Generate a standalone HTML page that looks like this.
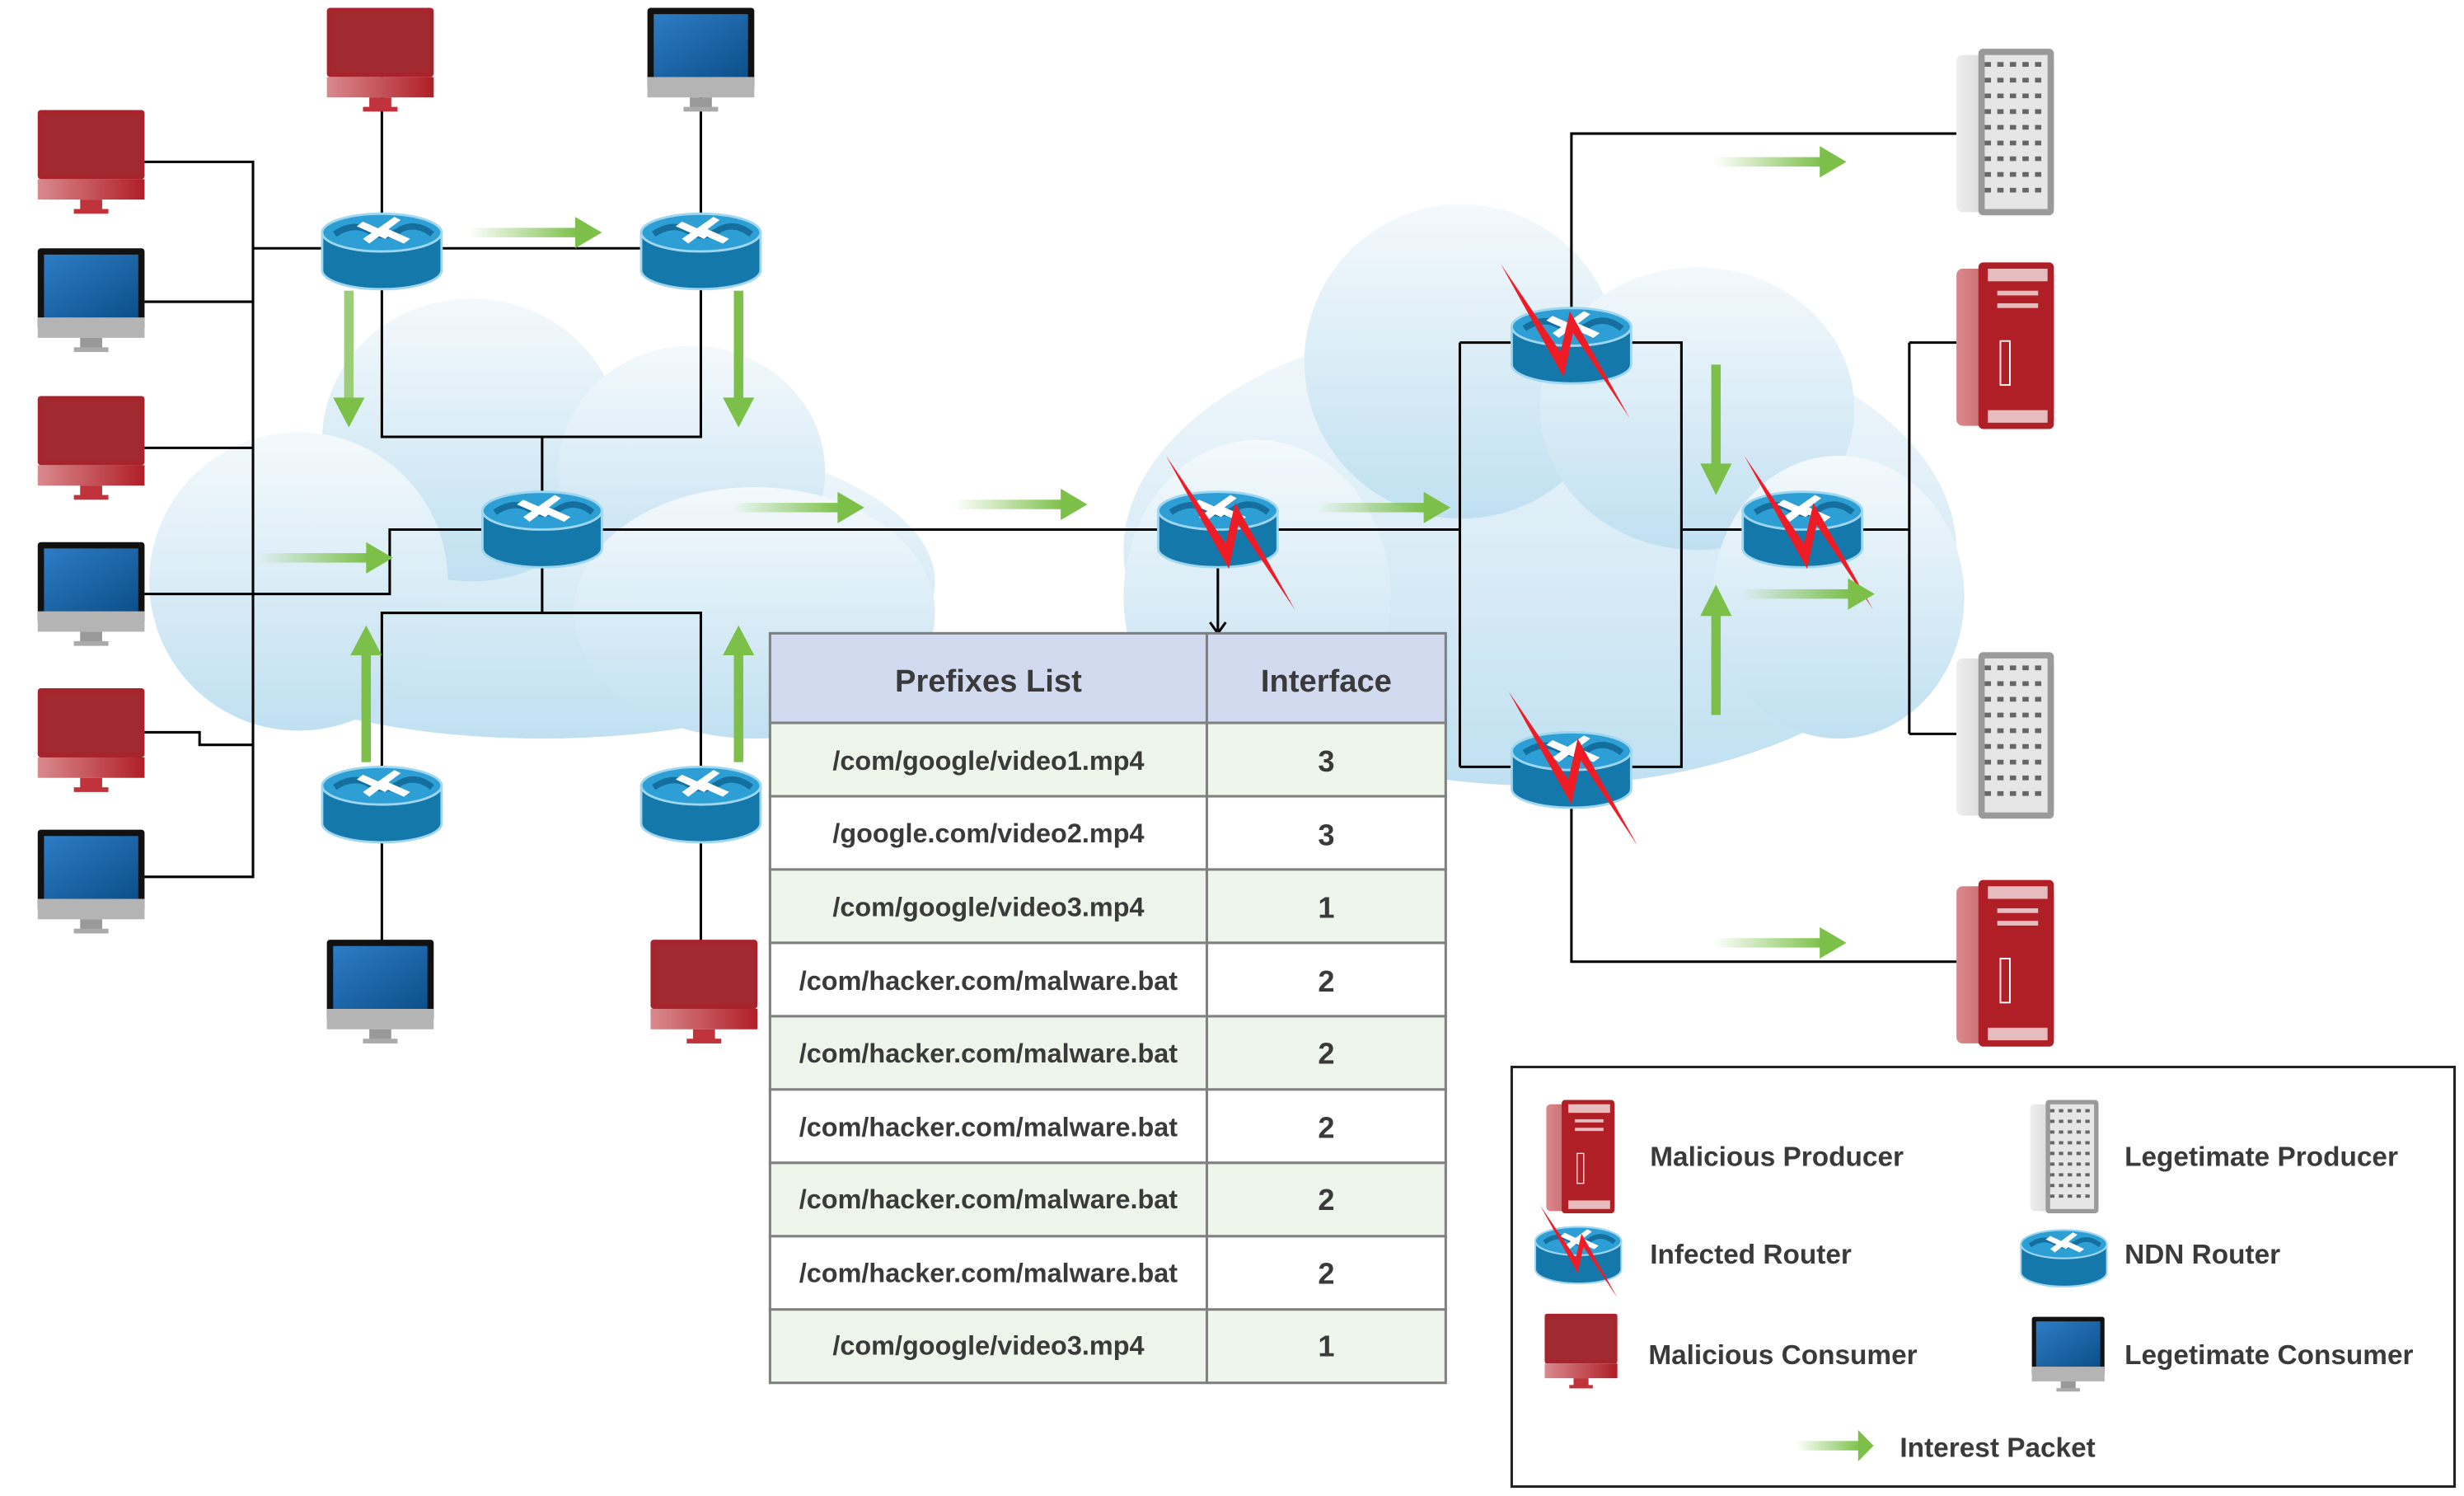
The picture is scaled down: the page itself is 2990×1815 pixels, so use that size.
<!DOCTYPE html>
<html><head><meta charset="utf-8"><style>
html,body{margin:0;padding:0;background:#fff;}
svg{display:block;}
text{font-family:"Liberation Sans",sans-serif;font-weight:bold;fill:#3a3a3a;}
</style></head><body>
<svg width="2990" height="1815" viewBox="0 0 1568 952" preserveAspectRatio="none" xmlns="http://www.w3.org/2000/svg">
<defs>
<linearGradient id="cloud" x1="0" y1="0" x2="0" y2="1"><stop offset="0" stop-color="#f4f9fc"/><stop offset="1" stop-color="#c0e0f1"/></linearGradient>
<linearGradient id="ah" x1="0" y1="0" x2="1" y2="0"><stop offset="0" stop-color="#7cc04a" stop-opacity="0"/><stop offset="1" stop-color="#7cc04a"/></linearGradient>
<linearGradient id="bs" x1="0" y1="0" x2="1" y2="1"><stop offset="0" stop-color="#2d7cc4"/><stop offset="1" stop-color="#0c4f8a"/></linearGradient>
<linearGradient id="rs" x1="0" y1="0" x2="1" y2="0"><stop offset="0" stop-color="#d98a8e"/><stop offset="1" stop-color="#b01e26"/></linearGradient>
<linearGradient id="gs" x1="0" y1="0" x2="1" y2="0"><stop offset="0" stop-color="#eee"/><stop offset="1" stop-color="#aaa"/></linearGradient>
<g id="router">
 <path d="M0,13 V37 A38,12 0 0 0 76,37 V13 Z" fill="#1478ab" stroke="#9fd6f0" stroke-width="1.5"/>
 <ellipse cx="38" cy="13" rx="38" ry="12" fill="#2e9fd4" stroke="#9fd6f0" stroke-width="1.5"/>
 <path d="M8,14 Q20,6 30,12 Q40,18 50,11 Q60,6 70,14" stroke="#146f9e" stroke-width="4" fill="none"/>
 <path d="M26,6 L44,14 L40,17 L22,9 Z M52,20 L34,12 L38,9 L56,17 Z M50,5 L30,20 L26,17 L46,3 Z" fill="#fff"/>
</g>
<g id="mblue">
 <rect x="0" y="0" width="68" height="52" rx="2" fill="#111"/>
 <rect x="4" y="4" width="60" height="40" fill="url(#bs)"/>
 <rect x="0" y="44" width="68" height="13" fill="#b4b4b4"/>
 <rect x="27" y="57" width="14" height="8" fill="#999"/><rect x="23" y="63" width="22" height="3" fill="#aaa"/>
</g>
<g id="mred">
 <rect x="0" y="0" width="68" height="44" rx="2" fill="#a8242c"/>
 <rect x="3" y="3" width="62" height="38" fill="#a12a30"/>
 <rect x="0" y="44" width="68" height="13" fill="url(#rs)"/>
 <rect x="27" y="57" width="14" height="8" fill="#c0333a"/><rect x="23" y="63" width="22" height="3" fill="#c0333a"/>
</g>
<g id="sred">
 <rect x="0" y="4" width="62" height="100" rx="4" fill="url(#rs)"/>
 <rect x="14" y="0" width="48" height="106" rx="3" fill="#b01e26"/>
 <rect x="20" y="4" width="38" height="8" fill="#fff" opacity=".7"/><rect x="20" y="94" width="38" height="8" fill="#fff" opacity=".7"/>
 <rect x="26" y="18" width="26" height="3" fill="#fff" opacity=".7"/><rect x="26" y="26" width="26" height="3" fill="#fff" opacity=".7"/>
 <rect x="28" y="50" width="6" height="28" fill="none" stroke="#fff" stroke-width="1"/>
</g>
<g id="sgray">
 <rect x="0" y="4" width="62" height="100" rx="4" fill="url(#gs)"/>
 <rect x="14" y="0" width="48" height="106" rx="3" fill="#9a9a9a"/>
 <rect x="18" y="4" width="40" height="98" fill="#e6e6e6"/>
 <path d="M18,10 H58 M18,20 H58 M18,30 H58 M18,40 H58 M18,50 H58 M18,60 H58 M18,70 H58 M18,80 H58 M18,90 H58" stroke="#666" stroke-width="3" stroke-dasharray="4 4"/>
</g>
<g id="bolt"><polygon points="0,0 38,56 44,30 82,98 46,44 40,72" fill="#ee1c25"/></g>
<g id="ar"><rect x="0" y="-3" width="70" height="6" fill="url(#ah)"/><polygon points="68,-10 85,0 68,10" fill="#7cc04a"/></g>
</defs>

<!-- clouds -->
<g fill="url(#cloud)">
 <ellipse cx="345" cy="370" rx="250" ry="100"/>
 <ellipse cx="300" cy="280" rx="95" ry="90"/>
 <ellipse cx="440" cy="300" rx="85" ry="80"/>
 <ellipse cx="190" cy="370" rx="95" ry="95"/>
 <ellipse cx="480" cy="390" rx="115" ry="80"/>
 <ellipse cx="980" cy="350" rx="265" ry="150"/>
 <ellipse cx="930" cy="230" rx="100" ry="100"/>
 <ellipse cx="1080" cy="260" rx="100" ry="90"/>
 <ellipse cx="800" cy="380" rx="85" ry="100"/>
 <ellipse cx="1170" cy="380" rx="80" ry="90"/>
</g>

<!-- connectors -->
<g stroke="#000" stroke-width="1.6" fill="none">
 <path d="M92,103 H161 V558 H92 M92,192 H161 M92,285 H161 M161,158 H446 M92,378 H248 V337 H775 M92,466 H127 V474 H161"/>
 <path d="M243,40 V158 M446,40 V158 M243,158 V278 H446 V158 M345,278 V390 M243,510 V390 H446 V510 M243,510 V600 M446,510 V600"/>
 <path d="M775,337 H929 M929,218 V488 M929,218 H1070 V488 H929 M1070,337 H1215 M1215,218 V467 M1215,218 H1245 M1215,467 H1245"/>
 <path d="M1000,218 V85 H1245 M1000,488 V612 H1245 M775,337 V402"/>
 <path d="M770,396 L775,403 L780,396"/>
</g>

<!-- devices -->
<use href="#mred" x="24" y="70"/><use href="#mblue" x="24" y="158"/><use href="#mred" x="24" y="252"/>
<use href="#mblue" x="24" y="345"/><use href="#mred" x="24" y="438"/><use href="#mblue" x="24" y="528"/>
<use href="#mred" x="208" y="5"/><use href="#mblue" x="412" y="5"/>
<use href="#mblue" x="208" y="598"/><use href="#mred" x="414" y="598"/>
<use href="#sgray" x="1245" y="31"/><use href="#sred" x="1245" y="167"/><use href="#sgray" x="1245" y="415"/><use href="#sred" x="1245" y="560"/>

<use href="#router" x="205" y="135"/><use href="#router" x="408" y="135"/><use href="#router" x="307" y="312"/>
<use href="#router" x="205" y="487"/><use href="#router" x="408" y="487"/>
<use href="#router" x="737" y="312"/><use href="#router" x="962" y="195"/><use href="#router" x="962" y="465"/><use href="#router" x="1109" y="312"/>
<use href="#bolt" x="742" y="290"/><use href="#bolt" x="955" y="168"/><use href="#bolt" x="960" y="440"/><use href="#bolt" x="1110" y="290"/>

<!-- green arrows -->
<use href="#ar" x="298" y="148"/><use href="#ar" x="165" y="355"/><use href="#ar" x="465" y="323"/><use href="#ar" x="607" y="321"/>
<use href="#ar" x="838" y="323"/><use href="#ar" x="1090" y="103"/><use href="#ar" x="1108" y="378"/><use href="#ar" x="1090" y="600"/>
<g fill="#7cc04a">
 <rect x="219" y="185" width="6" height="70" fill="#9ccd7a"/><polygon points="212,253 222,272 232,253"/>
 <rect x="467" y="185" width="6" height="70"/><polygon points="460,253 470,272 480,253"/>
 <rect x="230" y="415" width="6" height="70"/><polygon points="223,417 233,398 243,417"/>
 <rect x="467" y="415" width="6" height="70"/><polygon points="460,417 470,398 480,417"/>
 <rect x="1089" y="232" width="6" height="65"/><polygon points="1082,295 1092,315 1102,295"/>
 <rect x="1089" y="390" width="6" height="65"/><polygon points="1082,392 1092,372 1102,392"/>
</g>

<!-- table -->
<g stroke="#808080" stroke-width="1.6">
 <rect x="490" y="403" width="430" height="57" fill="#d1daee"/>
 <rect x="490" y="460" width="430" height="46.7" fill="#eef5ea"/>
 <rect x="490" y="506.7" width="430" height="46.7" fill="#fff"/>
 <rect x="490" y="553.3" width="430" height="46.7" fill="#eef5ea"/>
 <rect x="490" y="600" width="430" height="46.7" fill="#fff"/>
 <rect x="490" y="646.7" width="430" height="46.7" fill="#eef5ea"/>
 <rect x="490" y="693.3" width="430" height="46.7" fill="#fff"/>
 <rect x="490" y="740" width="430" height="46.7" fill="#eef5ea"/>
 <rect x="490" y="786.7" width="430" height="46.7" fill="#fff"/>
 <rect x="490" y="833.3" width="430" height="46.7" fill="#eef5ea"/>
 <line x1="768" y1="403" x2="768" y2="880"/>
</g>
<g text-anchor="middle" font-size="17">
 <text x="629" y="440" font-size="20">Prefixes List</text><text x="844" y="440" font-size="20">Interface</text>
 <text x="629" y="490">/com/google/video1.mp4</text><text x="844" y="491" font-size="19">3</text>
 <text x="629" y="536">/google.com/video2.mp4</text><text x="844" y="538" font-size="19">3</text>
 <text x="629" y="583">/com/google/video3.mp4</text><text x="844" y="584" font-size="19">1</text>
 <text x="629" y="630">/com/hacker.com/malware.bat</text><text x="844" y="631" font-size="19">2</text>
 <text x="629" y="676">/com/hacker.com/malware.bat</text><text x="844" y="677" font-size="19">2</text>
 <text x="629" y="723">/com/hacker.com/malware.bat</text><text x="844" y="724" font-size="19">2</text>
 <text x="629" y="769">/com/hacker.com/malware.bat</text><text x="844" y="770" font-size="19">2</text>
 <text x="629" y="816">/com/hacker.com/malware.bat</text><text x="844" y="817" font-size="19">2</text>
 <text x="629" y="862">/com/google/video3.mp4</text><text x="844" y="863" font-size="19">1</text>
</g>

<!-- legend -->
<rect x="962" y="679" width="600" height="267" fill="#fff" stroke="#222" stroke-width="1.6"/>
<g transform="translate(984,700) scale(0.7,0.68)"><use href="#sred"/></g>
<g transform="translate(1292,700) scale(0.7,0.68)"><use href="#sgray"/></g>
<g transform="translate(977,780) scale(0.72,0.75)"><use href="#router"/></g>
<g transform="translate(980,767) scale(0.6,0.6)"><use href="#bolt"/></g>
<g transform="translate(1286,782) scale(0.72,0.75)"><use href="#router"/></g>
<g transform="translate(983,836) scale(0.68,0.72)"><use href="#mred"/></g>
<g transform="translate(1293,838) scale(0.68,0.72)"><use href="#mblue"/></g>
<g transform="translate(1143,920) scale(0.58,1)"><use href="#ar"/></g>
<g font-size="17.5">
 <text x="1050" y="742">Malicious Producer</text><text x="1352" y="742">Legetimate Producer</text>
 <text x="1050" y="804">Infected Router</text><text x="1352" y="804">NDN Router</text>
 <text x="1049" y="868">Malicious Consumer</text><text x="1352" y="868">Legetimate Consumer</text>
 <text x="1209" y="927">Interest Packet</text>
</g>
</svg>
</body></html>
